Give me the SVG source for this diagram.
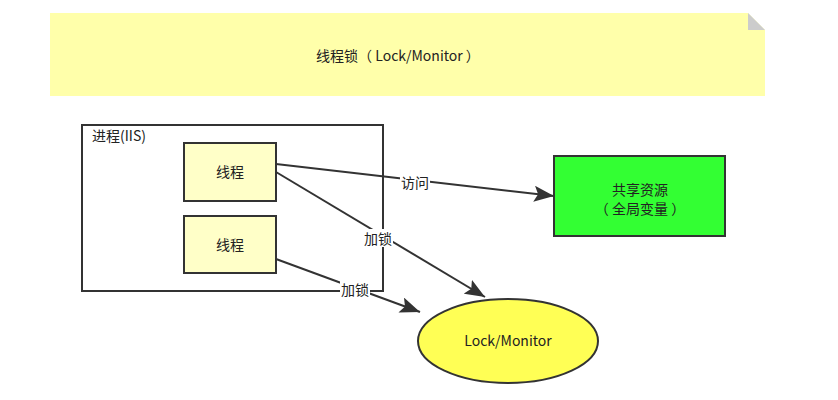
<svg xmlns="http://www.w3.org/2000/svg" width="838" height="400" viewBox="0 0 838 400">
<defs>
<style>
text{font-family:"Noto Sans CJK SC","Noto Sans",sans-serif;font-size:14px;fill:#222;}
.c{text-anchor:middle;}
.edge{stroke:#333;stroke-width:2;fill:none;}
.lbl{fill:#fff;}
</style>
<marker id="a" viewBox="0 0 20 16" refX="20" refY="8" markerWidth="20" markerHeight="16" markerUnits="userSpaceOnUse" orient="auto">
<path d="M0,0 L20,8 L0,16 L4,8 z" fill="#333"/>
</marker>
</defs>
<rect width="838" height="400" fill="#fff"/>
<g id="note">
<path d="M50,13 H748 L765,30 V96 H50 Z" fill="#ffffaa"/>
<path d="M748,13 L765,30 H748 Z" fill="#cccccc"/>
<text x="398" y="61" class="c" xml:space="preserve">线程锁（ Lock/Monitor ）</text>
</g>
<g id="process">
<rect x="82" y="125" width="301" height="166" fill="none" stroke="#333" stroke-width="2"/>
<text x="92" y="141">进程(IIS)</text>
</g>
<g id="thread1">
<rect x="184" y="143" width="92" height="58" fill="#ffffc8" stroke="#333" stroke-width="2"/>
<text x="230" y="177" class="c">线程</text>
</g>
<g id="thread2">
<rect x="184" y="216" width="92" height="57" fill="#ffffc8" stroke="#333" stroke-width="2"/>
<text x="230" y="250" class="c">线程</text>
</g>
<g id="resource">
<rect x="554" y="156" width="171" height="80" fill="#33ff33" stroke="#333" stroke-width="2"/>
<text x="640" y="195" class="c">共享资源</text>
<text x="640" y="214" class="c" xml:space="preserve">（ 全局变量 ）</text>
</g>
<g id="lock">
<ellipse cx="508" cy="341" rx="90" ry="42" fill="#ffff55" stroke="#333" stroke-width="2"/>
<text x="508" y="346" class="c">Lock/Monitor</text>
</g>
<g id="connectors">
<path class="edge" d="M276,164 L554,196" marker-end="url(#a)"/>
<path class="edge" d="M276,172 L485,297" marker-end="url(#a)"/>
<path class="edge" d="M276,259 L420,312" marker-end="url(#a)"/>
<rect class="lbl" x="400" y="173" width="30" height="18"/>
<text x="415" y="188" class="c">访问</text>
<rect class="lbl" x="363" y="229" width="30" height="18"/>
<text x="378" y="244" class="c">加锁</text>
<rect class="lbl" x="340" y="280" width="30" height="18"/>
<text x="355" y="295" class="c">加锁</text>
</g>
</svg>
